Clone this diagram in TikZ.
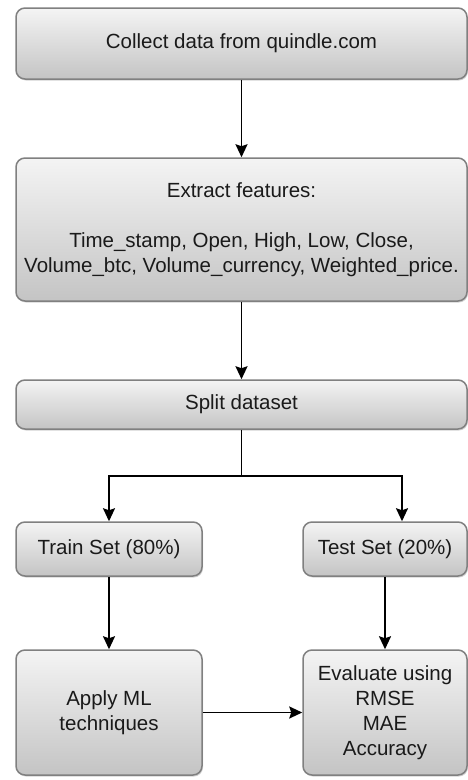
\documentclass[tikz,border=0pt]{standalone}
\usepackage{fontspec}
\setmainfont{Liberation Sans}
\usetikzlibrary{arrows.meta,calc,shadows}
\definecolor{boxtop}{HTML}{F4F4F4}
\definecolor{boxbot}{HTML}{C4C4C4}
\definecolor{boxline}{HTML}{808080}
\definecolor{inktext}{HTML}{1A1A1A}
\tikzset{
  flowbox/.style={draw=boxline, line width=1.5pt, rounded corners=9pt,
    top color=boxtop, bottom color=boxbot, align=center, inner sep=0pt,
    text=inktext, font=\fontsize{20.5}{25}\selectfont,
    drop shadow={shadow xshift=1pt, shadow yshift=-1.5pt, opacity=0.35, fill=gray}},
  flowarrow/.style={line width=1.8pt, -{Stealth[length=13pt,width=12pt,inset=2pt]}},
  flowline/.style={line width=1.8pt}
}
\begin{document}
\begin{tikzpicture}[x=1pt,y=-1pt]
\useasboundingbox (0,0) rectangle (468,780);
\node[flowbox, minimum width=451pt, minimum height=71pt] (collect) at (241.5,43.5) {Collect data from quindle.com};
\node[flowbox, minimum width=451pt, minimum height=143pt] (extract) at (241.5,229.5)
  {Extract features:\\[25pt]Time\_stamp, Open, High, Low, Close,\\Volume\_btc, Volume\_currency, Weighted\_price.};
\node[flowbox, minimum width=451pt, minimum height=49pt] (split) at (241.5,404.5) {Split dataset};
\node[flowbox, minimum width=186pt, minimum height=54pt] (train) at (109,549) {Train Set (80\%)};
\node[flowbox, minimum width=164pt, minimum height=54pt] (test) at (385,549) {Test Set (20\%)};
\node[flowbox, minimum width=186pt, minimum height=125pt] (apply) at (109,712.5) {Apply ML\\techniques};
\node[flowbox, minimum width=164pt, minimum height=125pt] (eval) at (385,712.5) {Evaluate using\\RMSE\\MAE\\Accuracy};
\coordinate (junction) at ($(split.south)+(0,46)$);
\coordinate (testin) at ($(test.north)+(17,0)$);
\draw[flowarrow] (collect.south) -- (extract.north);
\draw[flowarrow] (extract.south) -- (split.north);
\draw[flowline] (split.south) -- (junction);
\draw[flowarrow] (junction) -| (train.north);
\draw[flowarrow] (junction) -| (testin);
\draw[flowarrow] (train.south) -- (apply.north);
\draw[flowarrow] (test.south) -- (eval.north);
\draw[flowarrow] (apply.east) -- (eval.west);
\end{tikzpicture}
\end{document}
